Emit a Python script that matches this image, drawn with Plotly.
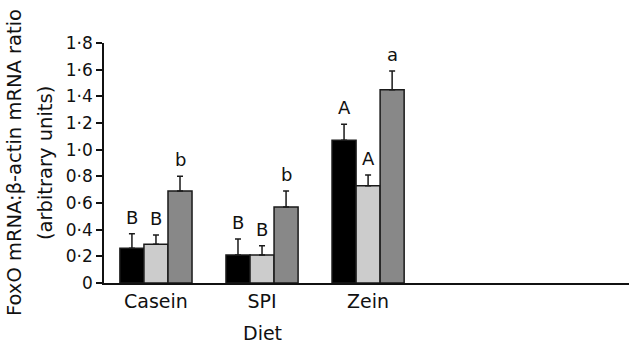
import plotly.graph_objects as go

categories = ["Casein", "SPI", "Zein"]
series_names = ["Series 1", "Series 2", "Series 3"]
series_colors = ["#000000", "#cccccc", "#888888"]
values = [
    [0.26, 0.21, 1.07],
    [0.29, 0.21, 0.73],
    [0.69, 0.57, 1.45],
]
errors = [
    [0.11, 0.12, 0.12],
    [0.07, 0.07, 0.08],
    [0.11, 0.12, 0.14],
]
letters = [
    ["B", "B", "A"],
    ["B", "B", "A"],
    ["b", "b", "a"],
]
y_ticks = [0, 0.2, 0.4, 0.6, 0.8, 1.0, 1.2, 1.4, 1.6, 1.8]
y_tick_labels = ["0", "0·2", "0·4", "0·6", "0·8", "1·0", "1·2", "1·4", "1·6", "1·8"]

FONT = "DejaVu Sans, Liberation Sans, Arial, sans-serif"
bargap = 0.32
n = len(values)
bar_w = (1 - bargap) / n
xpos = list(range(len(categories)))

fig = go.Figure()
for i in range(n):
    fig.add_trace(go.Bar(
        x=xpos, y=values[i], name=series_names[i],
        marker=dict(color=series_colors[i], line=dict(color="#1a1a1a", width=1.5)),
        error_y=dict(type="data", array=errors[i], arrayminus=[0] * len(errors[i]),
                     symmetric=False, color="#1a1a1a", thickness=1.5, width=3),
        showlegend=False,
    ))

annotations = []
for i in range(n):
    for j, c in enumerate(categories):
        annotations.append(dict(
            x=j + (i - (n - 1) / 2) * bar_w, y=values[i][j] + errors[i][j],
            xref="x", yref="y", text=letters[i][j], showarrow=False,
            yanchor="bottom", yshift=4, font=dict(family=FONT, size=18, color="#111"),
        ))

annotations.append(dict(x=1, y=0, xref="x", yref="paper", text="Diet", showarrow=False,
                        yanchor="middle", yshift=-50, font=dict(family=FONT, size=19, color="#111")))
annotations.append(dict(x=0, y=0.5, xref="paper", yref="paper", text="FoxO mRNA:β-actin mRNA ratio",
                        showarrow=False, textangle=-90, xanchor="center", yanchor="middle",
                        xshift=-90, font=dict(family=FONT, size=19.5, color="#111")))
annotations.append(dict(x=0, y=0.5, xref="paper", yref="paper", text="(arbitrary units)",
                        showarrow=False, textangle=-90, xanchor="center", yanchor="middle",
                        xshift=-59, font=dict(family=FONT, size=19.5, color="#111")))

fig.update_layout(
    width=629, height=346,
    margin=dict(l=104, r=0, t=43, b=63),
    paper_bgcolor="white", plot_bgcolor="white",
    barmode="group", bargap=bargap, bargroupgap=0,
    annotations=annotations,
    font=dict(family=FONT, color="#111"),
)
fig.update_xaxes(
    range=[-0.49, 4.46], tickvals=xpos, ticktext=categories,
    showline=True, linecolor="#111", linewidth=1.5, ticks="", showgrid=False, zeroline=False,
    tickfont=dict(family=FONT, size=19, color="#111"),
)
fig.update_yaxes(
    range=[0, 1.8], tickvals=y_ticks, ticktext=y_tick_labels,
    showline=True, linecolor="#111", linewidth=1.5, ticks="outside", ticklen=6, tickwidth=1.5,
    tickcolor="#111", showgrid=False, zeroline=False,
    tickfont=dict(family=FONT, size=17, color="#111"),
)
fig.write_html("out.html", config={"displayModeBar": False},
               post_script="document.body.style.margin='0';document.body.style.overflow='hidden';")
